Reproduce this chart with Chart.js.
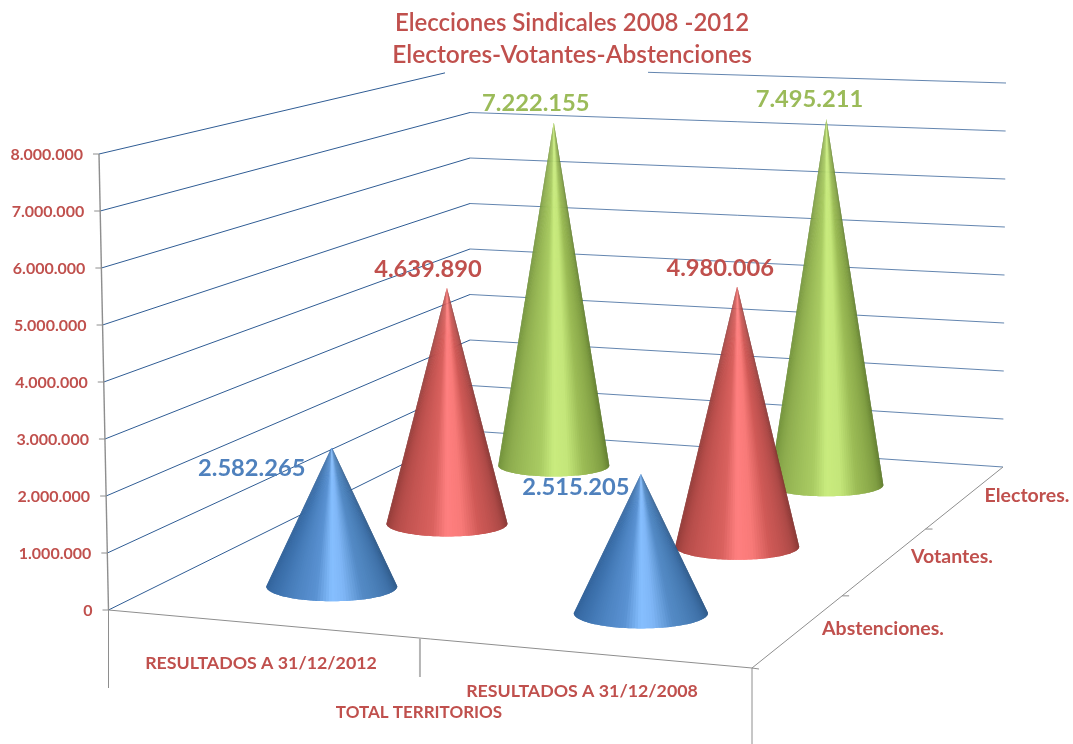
<!DOCTYPE html>
<html>
<head>
<meta charset="utf-8">
<title>Elecciones Sindicales 2008 -2012</title>
<script src="https://cdn.jsdelivr.net/npm/chart.js@4/dist/chart.umd.js"></script>
<style>
  html, body { margin: 0; padding: 0; background: #fff; }
  canvas { display: block; }
</style>
</head>
<body>
<canvas id="grafico" width="1073" height="744"></canvas>
<script>
// Datos
const categorias = ['RESULTADOS A 31/12/2012', 'RESULTADOS A 31/12/2008'];
const series = ['Abstenciones.', 'Votantes.', 'Electores.'];
const abstenciones = [2582265, 2515205];
const votantes = [4639890, 4980006];
const electores = [7222155, 7495211];
const tituloLineas = ['Elecciones Sindicales 2008 -2012', 'Electores-Votantes-Abstenciones'];
const tituloEje = 'TOTAL TERRITORIOS';

const ROJO = '#c0504d';
const FUENTE = 'Lato, "Open Sans", sans-serif';

// Colores de cada cono, de izquierda a derecha
const rampas = [
  [[0, '#2f5f96'], [0.2, '#3f74b0'], [0.42, '#5a92d2'], [0.5, '#86bfff'], [0.56, '#7fb6f6'], [0.66, '#548bc6'], [0.85, '#3f71a8'], [1, '#2c5684']],
  [[0, '#8a3835'], [0.2, '#b84e4b'], [0.42, '#d9615e'], [0.5, '#ff8080'], [0.58, '#f87a78'], [0.68, '#d05a57'], [0.85, '#ad4a47'], [1, '#7d322f']],
  [[0, '#6a8a35'], [0.2, '#8dac4e'], [0.42, '#a9cb62'], [0.5, '#c9ec7e'], [0.58, '#c4e67a'], [0.68, '#9cbc56'], [0.85, '#7f9d42'], [1, '#587329']]
];

// Suelo y alturas del dibujo en perspectiva (esquinas de la caja)
const caja = {
  fondoIzq: { x: 470, y: 431, alto: 364 },
  fondoDer: { x: 1003, y: 467, alto: 384 },
  frenteDerY: 668,
  frenteDerAlto: 480,
  k: 1.12
};

function hex(c) {
  return [1, 3, 5].map(i => parseInt(c.substr(i, 2), 16));
}

function colorRampa(rampa, t) {
  for (let i = 1; i < rampa.length; i++) {
    if (t <= rampa[i][0]) {
      const a = rampa[i - 1], b = rampa[i];
      const f = (t - a[0]) / (b[0] - a[0]);
      const ca = hex(a[1]), cb = hex(b[1]);
      return 'rgb(' + ca.map((v, j) => Math.round(v + (cb[j] - v) * f)).join(',') + ')';
    }
  }
  return rampa[rampa.length - 1][1];
}

function lerp(a, b, t) {
  return a + (b - a) * t;
}

// u: 0..1 a lo ancho, d: 0..1 hacia el fondo, f: 0..1 de altura
function proyectar(chart, u, d, f) {
  const area = chart.chartArea;
  const k = caja.k;
  const dd = k * d / (1 + (k - 1) * d);
  const frente = { x: area.left, y: area.bottom, alto: area.bottom - area.top };
  const izqX = lerp(frente.x, caja.fondoIzq.x, dd);
  const izqY = lerp(frente.y, caja.fondoIzq.y, dd);
  const izqA = lerp(frente.alto, caja.fondoIzq.alto, dd);
  const derX = lerp(area.right, caja.fondoDer.x, dd);
  const derY = lerp(caja.frenteDerY, caja.fondoDer.y, dd);
  const derA = lerp(caja.frenteDerAlto, caja.fondoDer.alto, dd);
  return {
    x: lerp(izqX, derX, u),
    suelo: lerp(izqY, derY, u),
    y: lerp(izqY, derY, u) - lerp(izqA, derA, u) * f
  };
}

function fraccion(chart, valor) {
  const y = chart.scales.y;
  return (y.bottom - y.getPixelForValue(valor)) / (y.bottom - y.top);
}

// posicion de la categoria, 0..1, algo recogida hacia el centro
function posCategoria(chart, i) {
  const area = chart.chartArea;
  const u = (chart.scales.x.getPixelForValue(i) - area.left) / (area.right - area.left);
  return u + (0.5 - u) * 0.008;
}

function linea(ctx, x1, y1, x2, y2) {
  ctx.beginPath();
  ctx.moveTo(x1, y1);
  ctx.lineTo(x2, y2);
  ctx.stroke();
}

function texto(ctx, t, x, y, color, fuente, alinear) {
  ctx.fillStyle = color;
  ctx.font = fuente;
  ctx.textAlign = alinear || 'center';
  ctx.textBaseline = 'middle';
  ctx.fillText(t, x, y);
}

function dibujarCono(ctx, cx, cy, cimaY, rx, ry, rampa) {
  const n = 70;
  for (let i = 0; i < n; i++) {
    // cada cuna pisa la siguiente para que no se vean las juntas
    const a1 = Math.PI * (1 - i / n), a2 = Math.PI * (1 - Math.min(i + 2, n) / n);
    ctx.fillStyle = colorRampa(rampa, (i + 0.5) / n);
    ctx.beginPath();
    ctx.moveTo(cx, cimaY);
    ctx.lineTo(cx + rx * Math.cos(a1), cy + ry * Math.sin(a1));
    ctx.lineTo(cx + rx * Math.cos((a1 + a2) / 2), cy + ry * Math.sin((a1 + a2) / 2));
    ctx.lineTo(cx + rx * Math.cos(a2), cy + ry * Math.sin(a2));
    ctx.closePath();
    ctx.fill();
  }
}

const caja3d = {
  id: 'caja3d',
  beforeDatasetsDraw(chart) {
    const ctx = chart.ctx;
    const yEje = chart.scales.y;
    const area = chart.chartArea;
    ctx.save();

    // Rejilla: pared izquierda y pared del fondo
    ctx.lineWidth = 1;
    yEje.ticks.forEach(t => {
      const f = fraccion(chart, t.value);
      const a = izquierdaEje(chart, f);
      const b = proyectar(chart, 0, 1, f);
      const c = proyectar(chart, 1, 1, f);
      ctx.strokeStyle = '#2f5c94';
      linea(ctx, a.x, a.y, b.x, b.y);
      ctx.strokeStyle = 'rgba(47, 92, 148, 0.75)';
      linea(ctx, b.x, b.y, c.x + 3 * f, c.y);
    });

    // El cuadro del titulo tapa la ultima linea
    ctx.fillStyle = '#fff';
    ctx.fillRect(445, 58, 203, 24);

    // Ejes grises
    const gris = '#8e8e8e';
    ctx.strokeStyle = gris;
    ctx.lineWidth = 1.4;
    const arriba = izquierdaEje(chart, 1);
    linea(ctx, arriba.x, arriba.y, area.left, area.bottom);
    ctx.lineWidth = 1;
    linea(ctx, area.left, area.bottom, area.right, caja.frenteDerY);
    linea(ctx, area.right, caja.frenteDerY, caja.fondoDer.x, caja.fondoDer.y);
    linea(ctx, area.left, area.bottom, area.left, 688);
    linea(ctx, area.right, caja.frenteDerY, area.right, 744);
    ctx.lineWidth = 2;
    ctx.strokeStyle = '#b5b5b5';
    const medio = proyectar(chart, 0.484, 0, 0);
    linea(ctx, medio.x, medio.suelo, medio.x, 677);

    // Marcas de profundidad
    ctx.strokeStyle = gris;
    ctx.lineWidth = 1;
    [1 / 3, 2 / 3].forEach(d => {
      const p = proyectar(chart, 1, d, 0);
      linea(ctx, p.x, p.suelo, p.x + 7, p.suelo);
    });
    linea(ctx, area.right, caja.frenteDerY, area.right + 7, caja.frenteDerY + 1);

    // Marcas y etiquetas del eje de valores
    yEje.ticks.forEach(t => {
      const f = fraccion(chart, t.value);
      const p = izquierdaEje(chart, f);
      ctx.strokeStyle = gris;
      linea(ctx, p.x - 6, p.y, p.x, p.y);
      texto(ctx, t.label, p.x - 16, p.y + 1, ROJO, '700 16px ' + FUENTE, 'right');
    });
    ctx.restore();
  },
  afterDatasetsDraw(chart) {
    const ctx = chart.ctx;
    const area = chart.chartArea;
    const anchoCat = (area.right - area.left) / chart.data.labels.length;
    const nSeries = chart.data.datasets.length;
    ctx.save();

    // Del fondo hacia delante
    for (let s = nSeries - 1; s >= 0; s--) {
      const ds = chart.data.datasets[s];
      ds.data.forEach((valor, i) => {
        const u = posCategoria(chart, i);
        const d = (s + 0.5) / nSeries;
        const p = proyectar(chart, u, d, fraccion(chart, valor));
        const rx = anchoCat * 0.2 * lerp(1.057, 0.824, d) * (1 + 0.05 * (u - 0.25));
        const ry = rx * lerp(0.235, 0.19, d);
        dibujarCono(ctx, p.x, p.suelo - lerp(5, 2, d), p.y, rx, ry, rampas[s]);
      });
    }
    ctx.restore();
  },
  afterDraw(chart) {
    const ctx = chart.ctx;
    const nSeries = chart.data.datasets.length;
    ctx.save();

    // Valores encima de cada cono
    const coloresValor = ['#4f81bd', ROJO, '#9bbb59'];
    const desvio = [[[-80, 21], [-65, 13]], [[-19, -18], [-17, -18]], [[-18, -19], [-17, -20]]];
    chart.data.datasets.forEach((ds, s) => {
      ds.data.forEach((valor, i) => {
        const p = proyectar(chart, posCategoria(chart, i), (s + 0.5) / nSeries, fraccion(chart, valor));
        const t = valor.toLocaleString('de-DE');
        texto(ctx, t, p.x + desvio[s][i][0], p.y + desvio[s][i][1], coloresValor[s], '700 23.7px ' + FUENTE);
      });
    });

    // Titulo
    texto(ctx, tituloLineas[0], 572, 23, ROJO, '600 24px ' + FUENTE);
    texto(ctx, tituloLineas[1], 572, 55, ROJO, '600 24.5px ' + FUENTE);

    // Etiquetas de categorias y series, inclinadas con la caja
    const f = '700 17.8px ' + FUENTE;
    texto(ctx, categorias[0], 261, 663, ROJO, f);
    texto(ctx, categorias[1], 582, 691, ROJO, f);
    texto(ctx, tituloEje, 419, 713, ROJO, '700 17px ' + FUENTE);
    const f2 = '700 19.5px ' + FUENTE;
    texto(ctx, series[0], 883, 629, ROJO, f2);
    texto(ctx, series[1], 952, 557, ROJO, f2);
    texto(ctx, series[2], 1027, 496, ROJO, f2);
    ctx.restore();
  }
};

// La pared izquierda se inclina un poco hacia la izquierda al subir
function izquierdaEje(chart, f) {
  const area = chart.chartArea;
  return { x: area.left - 9.5 * f, y: area.bottom - (area.bottom - area.top) * f };
}

new Chart(document.getElementById('grafico').getContext('2d'), {
  type: 'bar',
  data: {
    labels: categorias,
    datasets: [
      { label: series[0], data: abstenciones, backgroundColor: 'transparent' },
      { label: series[1], data: votantes, backgroundColor: 'transparent' },
      { label: series[2], data: electores, backgroundColor: 'transparent' }
    ]
  },
  options: {
    responsive: false,
    animation: false,
    layout: { padding: { top: 154, bottom: 134, right: 321, left: 0 } },
    plugins: {
      legend: { display: false },
      title: { display: false },
      tooltip: { enabled: false }
    },
    scales: {
      x: { display: false },
      y: {
        min: 0,
        max: 8000000,
        grid: { display: false },
        border: { display: false },
        afterFit(scale) { scale.width = 108.5; },
        ticks: {
          display: false,
          stepSize: 1000000,
          callback: v => v.toLocaleString('de-DE')
        }
      }
    }
  },
  plugins: [caja3d]
});
</script>
</body>
</html>
